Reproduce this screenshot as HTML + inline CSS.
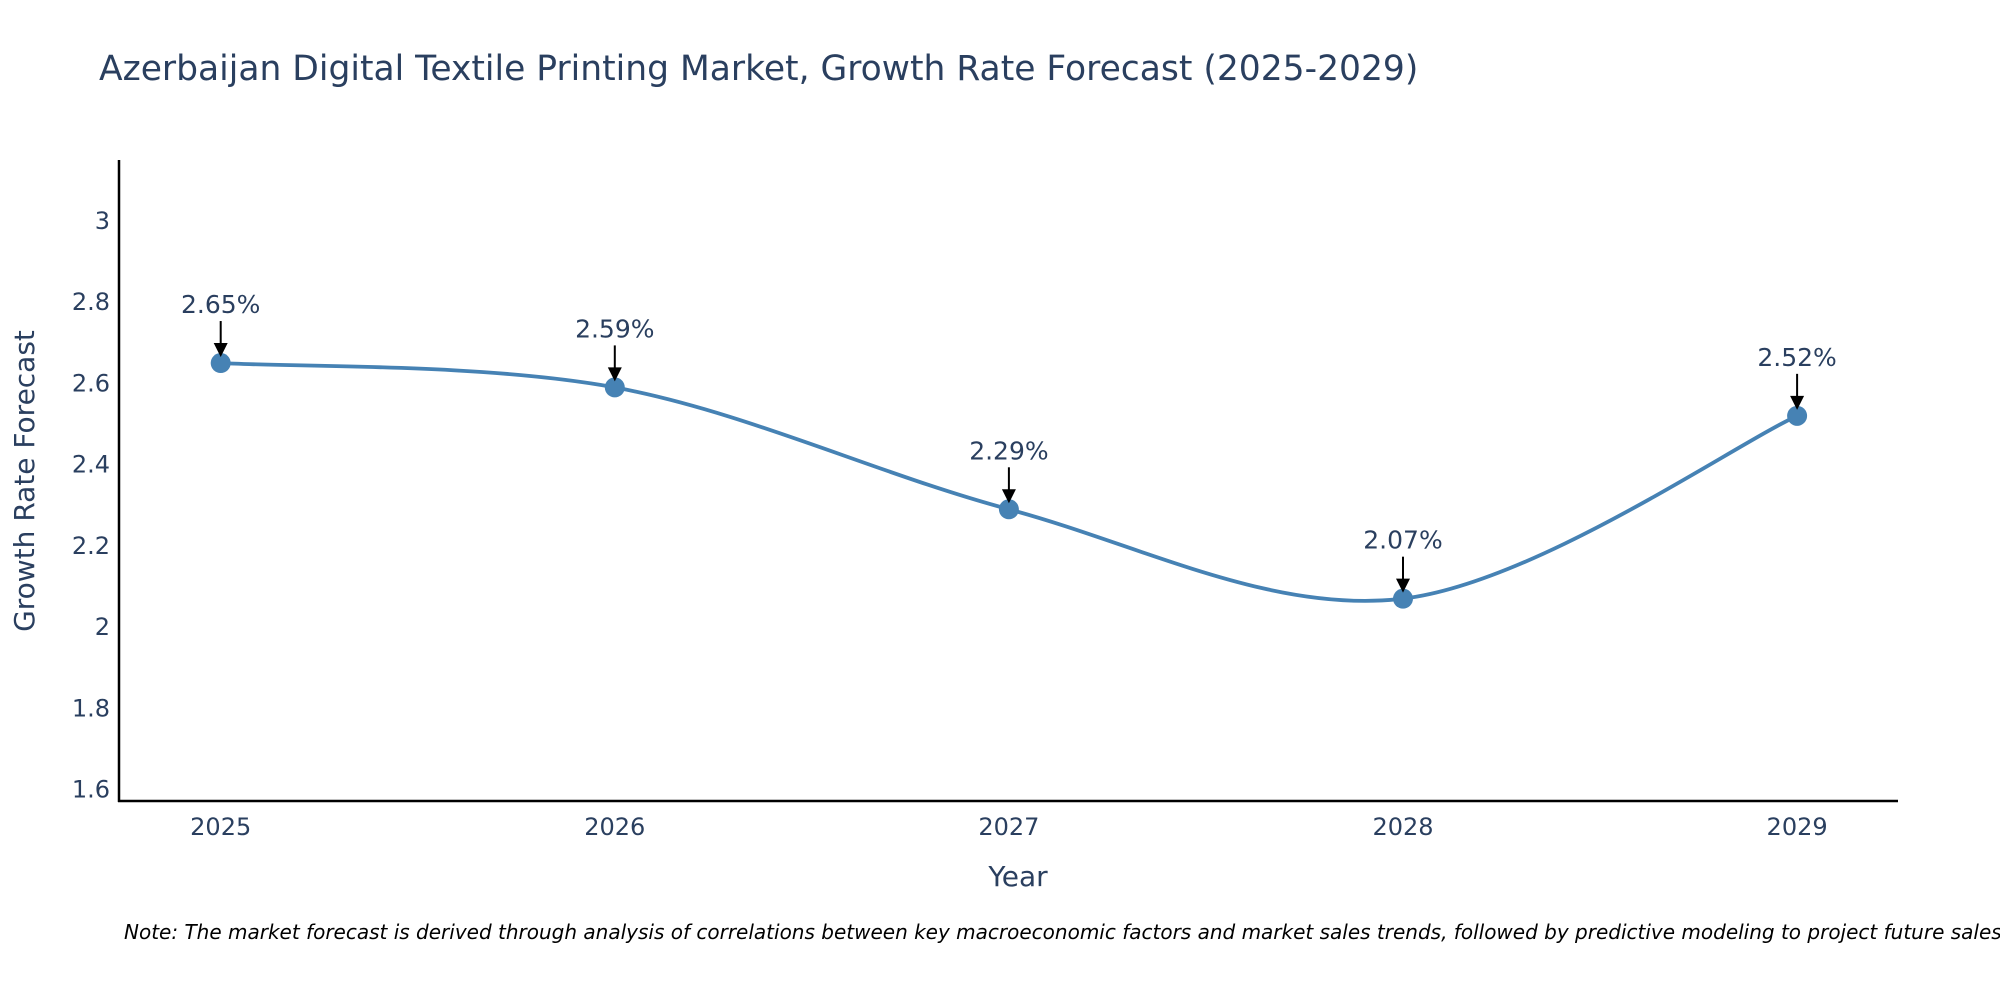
<!DOCTYPE html>
<html><head><meta charset="utf-8"><style>
body{margin:0;background:#fff;}
svg{display:block;font-family:"DejaVu Sans","Liberation Sans",sans-serif;}
</style></head><body>
<svg id="chart" width="2000" height="1000">
<text x="99" y="80" font-size="34.5" fill="#2a3f5f">Azerbaijan Digital Textile Printing Market, Growth Rate Forecast (2025-2029)</text>
<g id="yticks"></g><g id="xticks"></g>
<path id="line" fill="none" stroke="#4682b4" stroke-width="3.8"></path>
<g id="points"></g><g id="annots"></g>
<line x1="119" y1="160" x2="119" y2="802" stroke="#000" stroke-width="2.5"/>
<line x1="118" y1="801" x2="1898" y2="801" stroke="#000" stroke-width="2.5"/>
<text transform="translate(34,481) rotate(-90)" text-anchor="middle" font-size="28" fill="#2a3f5f">Growth Rate Forecast</text>
<text x="1018" y="886" text-anchor="middle" font-size="28" fill="#2a3f5f">Year</text>
<text x="124" y="939" font-size="20" font-style="italic" fill="#000">Note: The market forecast is derived through analysis of correlations between key macroeconomic factors and market sales trends, followed by predictive modeling to project future sales.</text>
</svg>
<script>
const years=[2025,2026,2027,2028,2029];
const values=[2.65,2.59,2.29,2.07,2.52];
const labels=["2.65%","2.59%","2.29%","2.07%","2.52%"];
const yTicks=[1.6,1.8,2,2.2,2.4,2.6,2.8,3];
const yTickLabels=["1.6","1.8","2","2.2","2.4","2.6","2.8","3"];
const NS="http://www.w3.org/2000/svg";
const X=v=>220.7+(v-2025)*394.1;
const Y=v=>801-(v-1.572)/(3.148-1.572)*(801-160.7);
function mk(t,a,p){const e=document.createElementNS(NS,t);for(const k in a)e.setAttribute(k,a[k]);p.appendChild(e);return e;}
const yt=document.getElementById('yticks');
yTicks.forEach((v,i)=>{const t=mk('text',{x:110,y:Y(v)+8,'text-anchor':'end','font-size':24,fill:'#2a3f5f'},yt);t.textContent=yTickLabels[i];

});
const xt=document.getElementById('xticks');
years.forEach(v=>{const t=mk('text',{x:X(v),y:835,'text-anchor':'middle','font-size':24,fill:'#2a3f5f'},xt);t.textContent=v;

});
const P=years.map((y,i)=>[X(y),Y(values[i])]);
let d=`M${P[0][0]},${P[0][1]}`;const s=0.5;
for(let i=0;i<P.length-1;i++){const p0=P[i-1]||P[i],p1=P[i],p2=P[i+1],p3=P[i+2]||P[i+1];
const c1=[p1[0]+(p2[0]-p0[0])*s/3,p1[1]+(p2[1]-p0[1])*s/3],c2=[p2[0]-(p3[0]-p1[0])*s/3,p2[1]-(p3[1]-p1[1])*s/3];
d+=` C${c1[0]},${c1[1]} ${c2[0]},${c2[1]} ${p2[0]},${p2[1]}`;}
document.getElementById('line').setAttribute('d',d);
const pts=document.getElementById('points'),an=document.getElementById('annots');
P.forEach((p,i)=>{const c=mk('circle',{cx:p[0],cy:p[1],r:10,fill:'#4682b4'},pts);


const l=mk('line',{x1:p[0],y1:p[1]-42,x2:p[0],y2:p[1]-18,stroke:'#000','stroke-width':2},an);


const h=mk('polygon',{points:`${p[0]-7},${p[1]-20} ${p[0]+7},${p[1]-20} ${p[0]},${p[1]-6}`,fill:'#000'},an);


const t=mk('text',{x:p[0],y:p[1]-50,'text-anchor':'middle','font-size':25,fill:'#2a3f5f'},an);t.textContent=labels[i];

});
</script>
</body></html>
